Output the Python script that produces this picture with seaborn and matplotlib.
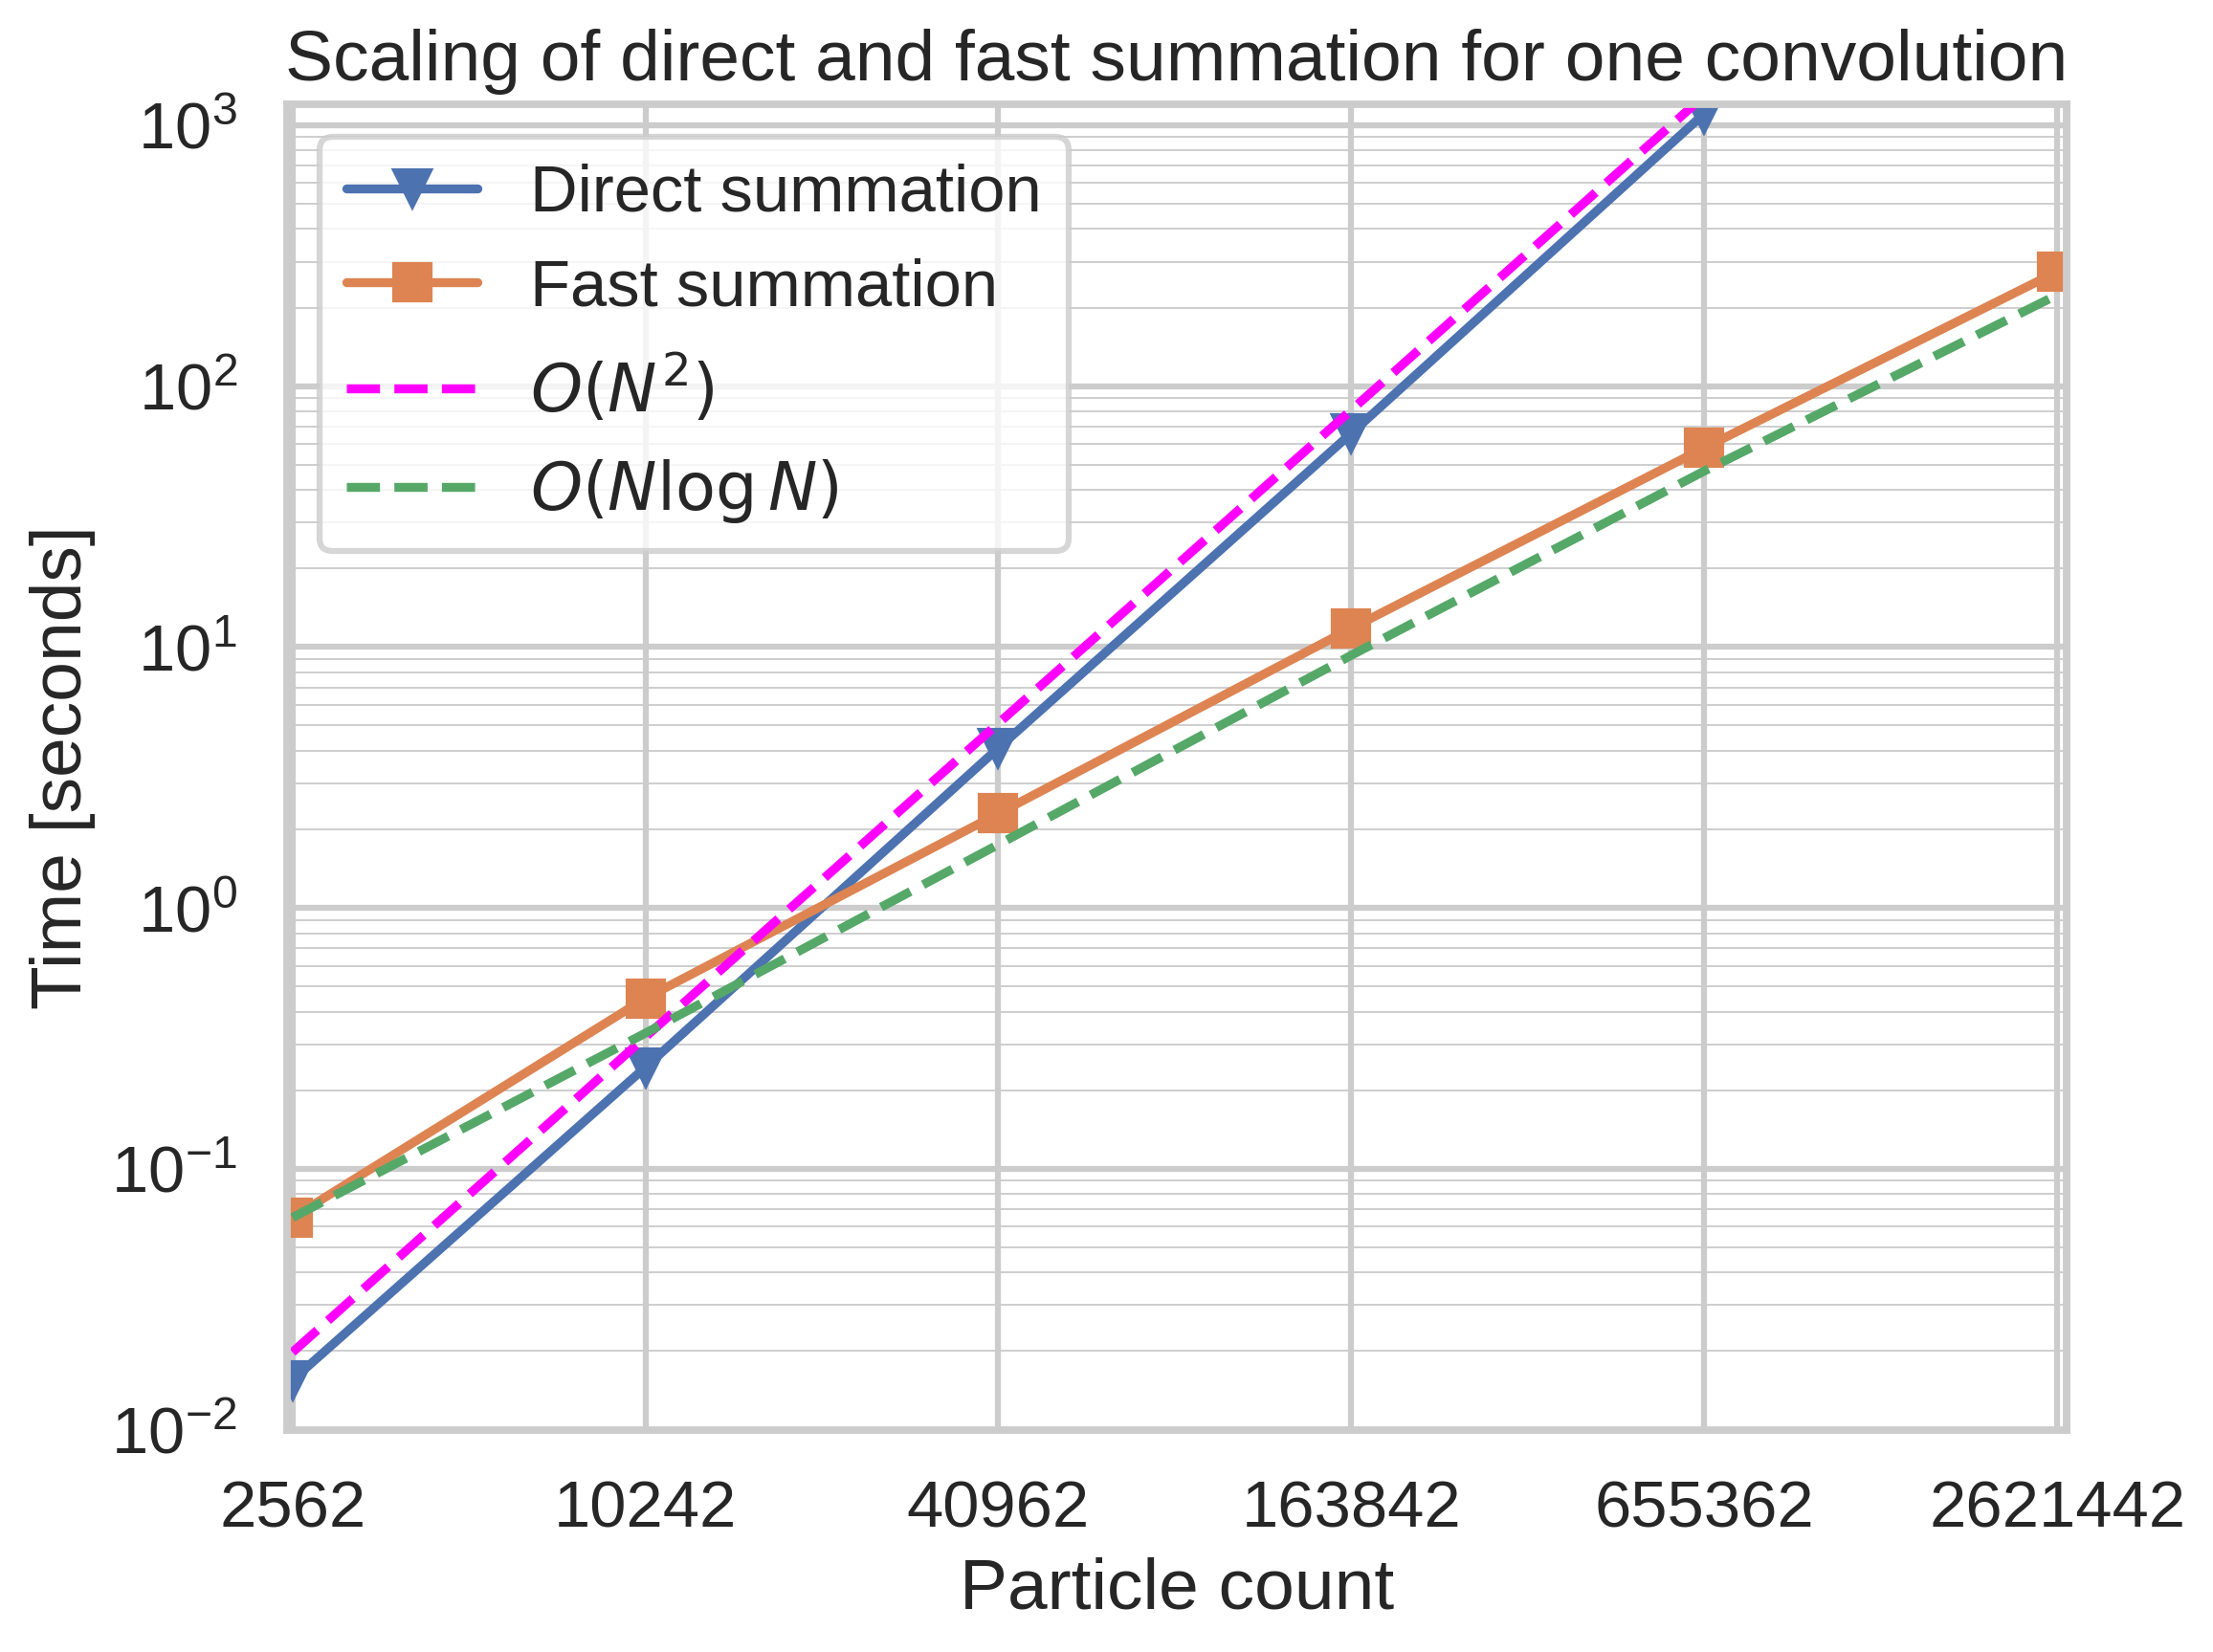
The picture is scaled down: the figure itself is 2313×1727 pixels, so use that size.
import numpy as np
import pandas as pd
import matplotlib
matplotlib.use("Agg")
import matplotlib.pyplot as plt
import matplotlib.ticker as mticker
import seaborn as sns

# particle counts (x axis)
particles = [2562, 10242, 40962, 163842, 655362, 2621442]
tick_labels = ["2562", "10242", "40962", "163842", "655362", "2621442"]

# timings (seconds)
direct_time = [0.0155, 0.245, 4.1, 66.0, 1110.0]
fast_time = [0.065, 0.45, 2.3, 11.8, 58.0, 275.0]

# reference slopes
ref_n2 = [0.0198, 0.32, 5.1, 81.0, 1300.0]
ref_nlogn = [0.065, 0.331, 1.75, 9.3, 47.3, 224.0]

sns.set_theme(style="whitegrid", context="talk")
plt.rcParams["font.family"] = ["Liberation Sans", "DejaVu Sans"]

pal = sns.color_palette("deep")

fig = plt.figure(figsize=(2313 / 300, 1727 / 300), dpi=300)
ax = fig.add_subplot(111)
fig.subplots_adjust(left=0.1297, right=0.9339, top=0.9369, bottom=0.1346)

sns.lineplot(x=particles[:len(direct_time)], y=direct_time, ax=ax, color=pal[0],
             marker="v", markeredgecolor=pal[0], markeredgewidth=1,
             label="Direct summation")
sns.lineplot(x=particles, y=fast_time, ax=ax, color=pal[1],
             marker="s", markeredgecolor=pal[1], markeredgewidth=1,
             label="Fast summation")
sns.lineplot(x=particles[:len(ref_n2)], y=ref_n2, ax=ax, color="magenta",
             linestyle="--", label=r"$O(N^2)$")
sns.lineplot(x=particles, y=ref_nlogn, ax=ax, color=pal[2],
             linestyle="--", label=r"$O(N\log N)$")

ax.set_xscale("log")
ax.set_yscale("log")
ax.set_xlim(2507.6, 2.7187e6)
ax.set_ylim(1e-2, 1.204e3)
ax.set_xticks(particles)
ax.set_xticklabels(tick_labels)
ax.xaxis.set_minor_locator(mticker.NullLocator())
ax.grid(which="minor", axis="y", linewidth=0.45, color=".8")

ax.set_title("Scaling of direct and fast summation for one convolution", pad=6)
ax.set_xlabel("Particle count")
ax.set_ylabel("Time [seconds]")
ax.legend(loc="upper left")

fig.savefig("out.png", dpi=300)
